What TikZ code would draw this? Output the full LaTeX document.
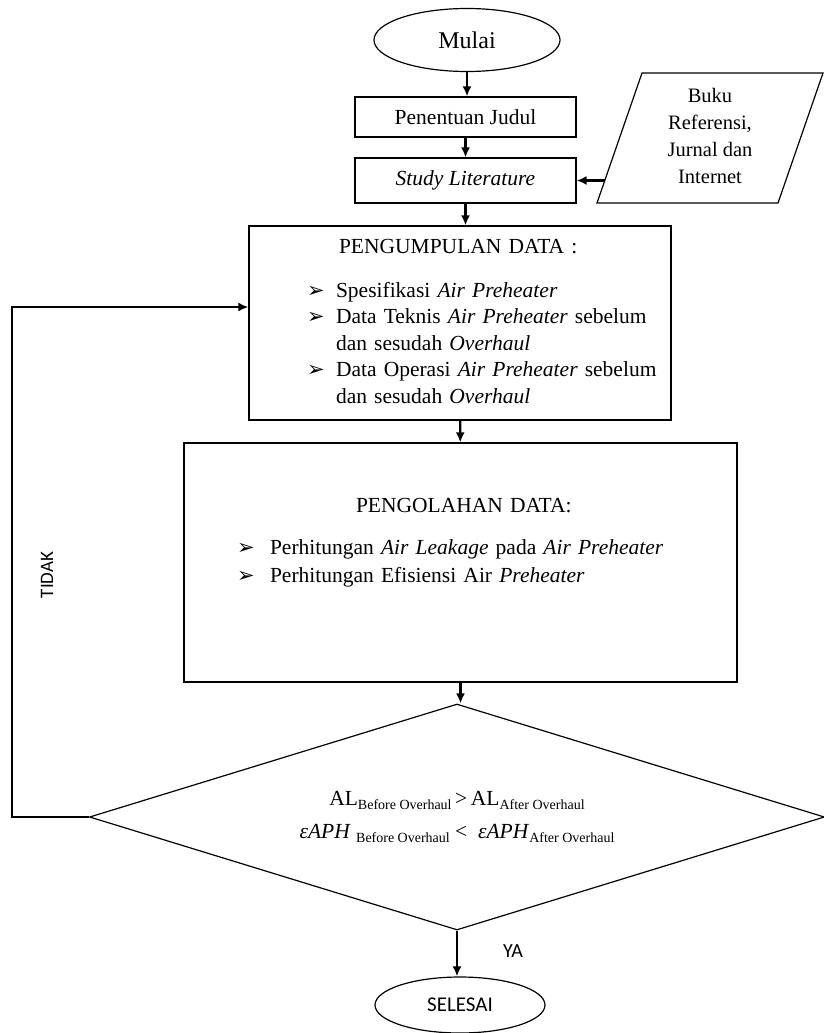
\documentclass[tikz,border=0pt]{standalone}
\usepackage{fontspec}
\setmainfont{Liberation Serif}
\newfontfamily\calibri{Carlito}
\newfontfamily\dingfont{DejaVu Sans}
\usetikzlibrary{shapes.geometric,arrows.meta}

\newcommand{\bul}{{\dingfont\fontsize{21}{21}\selectfont ➢}}
\newcommand{\bawah}[1]{\raisebox{-4pt}{\fontsize{14}{14}\selectfont #1}}

\begin{document}
\begin{tikzpicture}[x=1pt,y=-1pt,font=\fontsize{21.5}{26.5}\selectfont]
      \tikzstyle{kotak}=[rectangle,draw,line width=1.2pt,inner sep=0pt]
      \tikzstyle{elips}=[ellipse,draw,line width=1.2pt,inner sep=0pt]
      \tikzstyle{panah}=[line width=2.4pt,->,>={Latex[length=10pt,width=9pt]}]
      \useasboundingbox (0,0) rectangle (824,1033);
      \node[elips,minimum width=186pt,minimum height=63pt,font=\fontsize{24}{24}\selectfont] (mulai) at (467,40) {Mulai};
      \node[kotak,minimum width=221pt,minimum height=40pt] (judul) at (465.5,117) {Penentuan Judul};
      \node[kotak,minimum width=221pt,minimum height=45pt] (study) at (465.5,180.5) {\textit{Study Literature}};
      \node[align=center,font=\fontsize{20.5}{27}\selectfont] (referensi) at (710,136) {Buku\\Referensi,\\Jurnal dan\\Internet};
      \draw[line width=1.2pt] (597,203) -- (642,73) -- (823,73) -- (778,203) -- cycle;
      \coordinate (masuk) at (604.8,180.5);
      \node[kotak,minimum height=194pt,text width=422pt,align=left] (kumpul) at (460,323) {\hspace*{58pt}\begin{tabular}{@{}p{29pt}@{}l@{}}
        \multicolumn{2}{@{}l@{}}{\hspace{32pt}PENGUMPULAN DATA :}\\[17.5pt]
        \bul & Spesifikasi \textit{Air Preheater}\\
        \bul & Data Teknis \textit{Air Preheater} sebelum\\
             & dan sesudah \textit{Overhaul}\\
        \bul & Data Operasi \textit{Air Preheater} sebelum\\
             & dan sesudah \textit{Overhaul}
      \end{tabular}};
      \node[kotak,minimum height=239pt,text width=553pt,align=left,font=\fontsize{21.5}{28}\selectfont] (olah) at (460.5,562.5) {\hspace*{53pt}\begin{tabular}{@{}p{33pt}@{}l@{}}
        \multicolumn{2}{@{}l@{}}{\hspace{119pt}PENGOLAHAN DATA:}\\[14pt]
        \bul & Perhitungan \textit{Air Leakage} pada \textit{Air Preheater}\\
        \bul & Perhitungan Efisiensi Air \textit{Preheater}\\[42pt]
      \end{tabular}};
      \node[diamond,draw,line width=1.2pt,aspect=3.25,minimum width=735pt,minimum height=226pt,inner sep=0pt,align=center] (putusan) at (457,817) {AL\bawah{Before Overhaul}\,>\,AL\bawah{After Overhaul}\\[7pt]
        \textit{εAPH} \bawah{Before Overhaul} <\ \ \textit{εAPH}\bawah{After Overhaul}};
      \node[elips,minimum width=170pt,minimum height=56pt,font=\calibri\fontsize{21}{21}\selectfont] (selesai) at (460,1005) {SELESAI};
      \node[font=\calibri\fontsize{20}{20}\selectfont] (ya) at (513,951) {YA};
      \node[rotate=90,font=\calibri\fontsize{19}{19}\selectfont] (tidak) at (47,575) {TIDAK};
      \coordinate (belok) at (12,307);
      \draw[panah] (mulai.south) -- (mulai.south |- judul.north);
      \draw[panah] (judul) -- (study);
      \draw[panah] (study) -- (study |- kumpul.north);
      \draw[panah] (kumpul) -- (olah);
      \draw[panah] (olah.south) -- (olah.south |- putusan.north);
      \draw[panah] (putusan.south) -- (putusan.south |- selesai.north);
      \draw[panah] (masuk) -- (study.east);
      \draw[panah,line width=2.8pt] (putusan.west) -| (belok) -- (kumpul.west |- belok);
    \end{tikzpicture}
\end{document}
